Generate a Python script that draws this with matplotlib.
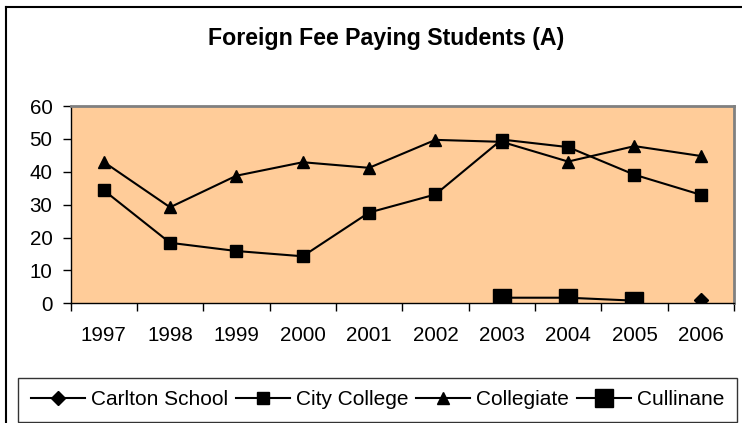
import numpy as np
import matplotlib
matplotlib.use("Agg")
import matplotlib.pyplot as plt
from matplotlib.lines import Line2D

plt.rcParams['font.family'] = ['Liberation Sans', 'DejaVu Sans']

title = "Foreign Fee Paying Students (A)"
years = ['1997', '1998', '1999', '2000', '2001', '2002', '2003', '2004', '2005', '2006']
carlton = [np.nan] * 9 + [1.1]
city_college = [34.4, 18.4, 15.9, 14.3, 27.6, 33.1, 49.8, 47.5, 39.1, 33.0]
collegiate = [43.0, 29.2, 38.8, 42.9, 41.2, 49.7, 49.1, 43.1, 47.8, 44.8]
cullinane = [np.nan] * 6 + [1.7, 1.7, 0.8, np.nan]
yticks = [0, 10, 20, 30, 40, 50, 60]

W, H = 742, 423
fig = plt.figure(figsize=(W / 100, H / 100), dpi=100)

# outer chart border (top & left visible, rest clipped)
fig.add_artist(Line2D([6 / W, 1.0], [1 - 7 / H, 1 - 7 / H], color='black', lw=1.5, transform=fig.transFigure))
fig.add_artist(Line2D([6 / W, 6 / W], [0, 1 - 7 / H], color='black', lw=1.5, transform=fig.transFigure))

left, right, top, bottom = 70.5, 734, 106, 303.3
ax = fig.add_axes([left / W, 1 - bottom / H, (right - left) / W, (bottom - top) / H])
ax.set_facecolor('#FFCC99')

x = np.arange(len(years))
lw = 1.5
ax.plot(x, carlton, color='black', lw=lw, marker='D', markersize=7, label='Carlton School')
ax.plot(x, city_college, color='black', lw=lw, marker='s', markersize=8, label='City College')
ax.plot(x, collegiate, color='black', lw=lw, marker='^', markersize=9, label='Collegiate')
ax.plot(x, cullinane, color='black', lw=lw, marker='s', markersize=13, label='Cullinane')

ax.set_xlim(-0.5, len(years) - 0.5)
ax.set_ylim(0, 60)
ax.set_yticks(yticks)
ax.set_yticklabels([str(v) for v in yticks], fontsize=14.8)
ax.tick_params(axis='y', direction='out', length=6, width=1, pad=7)

ax.set_xticks(np.arange(-0.5, len(years), 1.0))
ax.set_xticklabels([])
ax.tick_params(axis='x', which='major', direction='out', length=6, width=1)
ax.set_xticks(x, minor=True)
ax.set_xticklabels(years, minor=True, fontsize=14.8)
ax.tick_params(axis='x', which='minor', length=0, pad=16)

for s in ['top', 'right']:
    ax.spines[s].set_color('#808080')
    ax.spines[s].set_linewidth(2)
for s in ['left', 'bottom']:
    ax.spines[s].set_color('black')
    ax.spines[s].set_linewidth(1)

fig.text(386 / W, 1 - 38 / H, title, ha='center', va='center', fontsize=16.7, fontweight='bold')

leg = fig.legend(loc='lower left', bbox_to_anchor=(18 / W, 1 - 421.5 / H, (737 - 18) / W, 42 / H),
                 mode='expand', ncol=4, fontsize=15, frameon=True, fancybox=False,
                 edgecolor='black', handlelength=2.6, handletextpad=0.3, columnspacing=0.2,
                 borderaxespad=0, borderpad=0.6)
leg.get_frame().set_linewidth(1)

fig.savefig('out.png', dpi=100)
